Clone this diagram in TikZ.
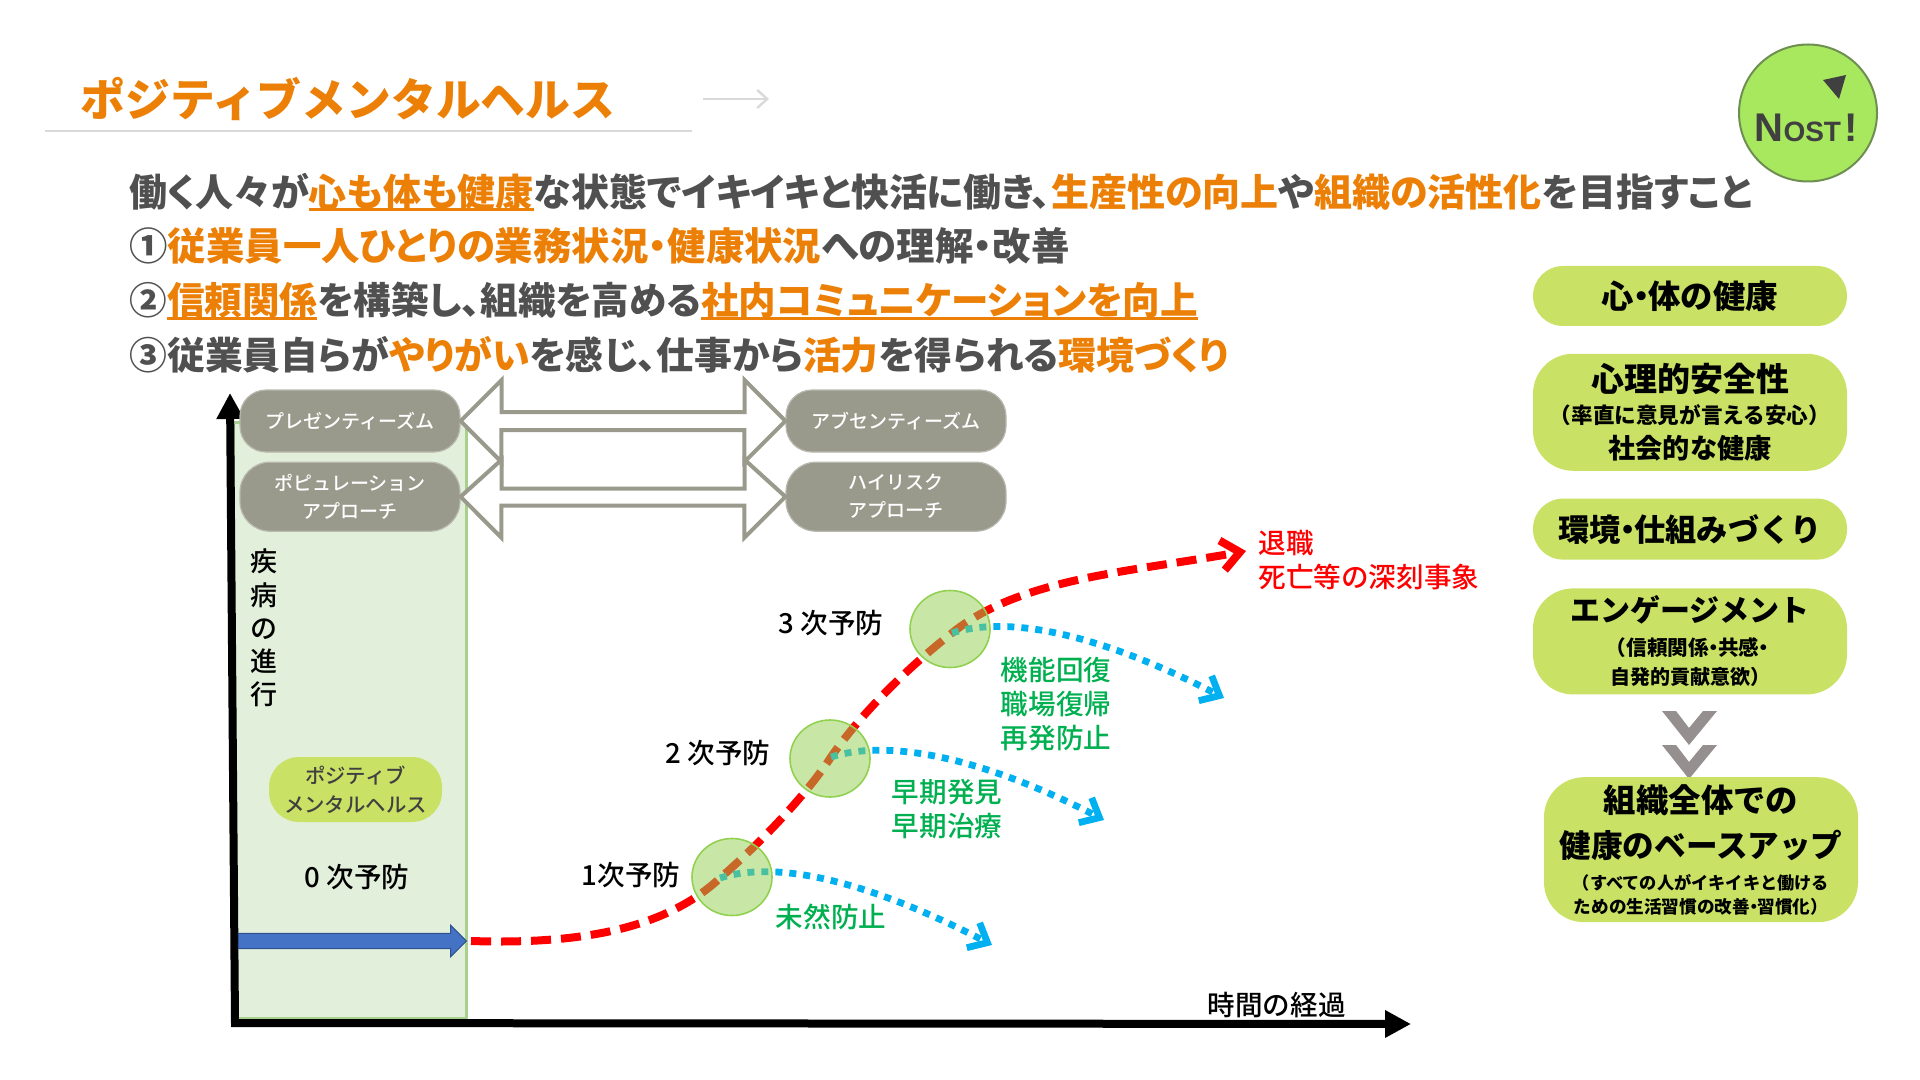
\documentclass[tikz,border=0pt]{standalone}
\usepackage{fontspec}
\setmainfont{Noto Sans CJK JP}
\newfontfamily\latinbold{Liberation Sans}
\newfontfamily\bodyfont{Noto Sans CJK JP}[RawFeature=+palt]
\newfontfamily\labelfont{Noto Sans CJK JP Medium}
\usetikzlibrary{arrows.meta, positioning, shapes.arrows, shapes.geometric}
\definecolor{TitleOrange}{HTML}{EC7F06}
\definecolor{BodyGray}{HTML}{505050}
\definecolor{RuleGray}{HTML}{D9D9D9}
\definecolor{PillLime}{HTML}{C9E265}
\definecolor{PillGray}{HTML}{999A8C}
\definecolor{ChevronGray}{HTML}{968F8F}
\definecolor{BandFill}{HTML}{E2EFDA}
\definecolor{BandLine}{HTML}{A9D18E}
\definecolor{StageFill}{HTML}{92D050}
\definecolor{PathRed}{HTML}{FF0000}
\definecolor{PathBlue}{HTML}{00B0F0}
\definecolor{NoteGreen}{HTML}{00B050}
\definecolor{BadgeGreen}{HTML}{A8E85F}
\definecolor{BadgeEdge}{HTML}{6E8F52}
\definecolor{ArrowBlue}{HTML}{4472C4}
\definecolor{ArrowEdge}{HTML}{2F528F}
\newcommand{\hl}[1]{{\color{TitleOrange}#1}}
\newsavebox{\hlubox}
\newcommand{\hlu}[1]{{\color{TitleOrange}\sbox{\hlubox}{#1}\rlap{\rule[-2.5pt]{\wd\hlubox}{1.6pt}}\usebox{\hlubox}}}
\newcommand{\tdot}{\hspace{-0.28em}・\hspace{-0.28em}}
\newcommand{\fsz}[1]{\fontsize{#1}{#1}\selectfont}

\begin{document}
\begin{tikzpicture}[
    x=0.5pt, y=-0.5pt,
    textline/.style={
        anchor=north west, inner sep=0pt, text=BodyGray,
        font=\bodyfont\fontsize{#1}{20}\selectfont\bfseries,
        text height=15.8pt, text depth=2.2pt
    },
    textline/.default={19},
    limepill/.style={
        rectangle, rounded corners=#1, fill=PillLime, inner sep=0pt,
        minimum width=157pt, align=center, text=black,
        font=\bfseries
    },
    limepill/.default={20pt},
    graypill/.style={
        rectangle, rounded corners=#1, fill=PillGray, draw=PillGray!70!white,
        line width=0.6pt, inner sep=0pt, minimum width=110pt, align=center,
        text=white, font=\labelfont\fontsize{9.5}{14}\selectfont
    },
    graypill/.default={13pt},
    bigarrow/.style={draw=PillGray, fill=white, line width=2pt, line join=miter},
    stage/.style={
        ellipse, draw=StageFill, line width=0.8pt, fill=StageFill,
        fill opacity=0.5, minimum width=40pt, minimum height=38.5pt, inner sep=0pt
    },
    axisline/.style={line width=4pt, -{Triangle[length=13pt, width=13pt]}},
    redpath/.style={
        PathRed, line width=4pt, dash pattern=on 10pt off 5pt,
        -{Straight Barb[length=9pt, width=15pt]}
    },
    bluepath/.style={
        PathBlue, line width=3.4pt, dash pattern=on 3.5pt off 3.5pt,
        -{Straight Barb[length=8pt, width=14pt]}
    },
    chartlabel/.style={font=\labelfont\fontsize{13.8}{17}\selectfont, align=center, inner sep=0pt},
    greennote/.style={chartlabel, text=NoteGreen}
]
\useasboundingbox (0,0) rectangle (1920,1080);

% Title
\node[anchor=west, inner sep=0pt, text=TitleOrange,
      font=\fontspec{Noto Sans CJK JP Black}\fontsize{22.4}{24}\selectfont] (title) at (80,99)
    {ポジティブメンタルヘルス};
\draw[RuleGray, line width=0.7pt] (45,131) -- (692,131);
\draw[RuleGray, line width=1.2pt, -{Straight Barb[length=5pt, width=9pt]}]
    (703,99) -- (769,99);

% Badge
\node[ellipse, fill=BadgeGreen, draw=BadgeEdge, line width=1pt,
      minimum width=69pt, minimum height=68.5pt, inner sep=0pt] (badge) at (1808,113) {};
\node[inner sep=0pt, text=black!75, font=\latinbold\bfseries] (nost) at (1806,128)
    {\fontsize{20}{20}\selectfont N\fontsize{14}{20}\selectfont OST\hspace{1.5pt}\fontsize{20}{20}\selectfont !};
\fill[black!75] (1823,80) -- (1846,75) -- (1839,99) -- cycle;

% --- Body text ---
\node[textline] (l1) at (129,174.5)
    {働く人々が\hlu{心も体も健康}な状態でイキイキと快活に働き、\hl{生産性の向上}や\hl{組織の活性化}を目指すこと};
\node[textline=19.2, below=8.7pt of l1.south west, anchor=north west] (l2)
    {①\hl{従業員一人ひとりの業務状況・健康状況}への理解・改善};
\node[textline=18.8, below=8.7pt of l2.south west, anchor=north west] (l3)
    {②\hlu{信頼関係}を構築し、組織を高める\hlu{社内コミュニケーションを向上}};
\node[textline=18.9, below=8.7pt of l3.south west, anchor=north west] (l4)
    {③従業員自らが\hl{やりがい}を感じ、仕事から\hl{活力}を得られる\hl{環境づくり}};

% --- Chart band and axes ---
\draw[fill=BandFill, draw=BandLine, line width=1.5pt] (233,422) rectangle (466,1018);
\coordinate (origin) at (235,1023);
\coordinate (ytop) at (230,393);
\coordinate (xend) at (1411,1024);
\draw[axisline] (origin) -- (ytop);
\draw[axisline] ([xshift=-2pt]origin) -- (xend);

% --- Approach pills ---
\node[graypill, minimum height=31pt] (pres) at (350,421) {プレゼンティーズム};
\node[graypill=15pt, minimum height=34.5pt, below=4.5pt of pres] (popu)
    {ポピュレーション\\アプローチ};
\node[graypill, minimum height=31pt] (abse) at (896,421) {アブセンティーズム};
\node[graypill=15pt, minimum height=34.5pt, below=4.5pt of abse] (high)
    {ハイリスク\\アプローチ};

% Double arrows
\draw[bigarrow] (pres.east) -- ++(41,-41) -- ++(0,32) -- ++(243,0) -- ++(0,-32)
    -- (abse.west) -- ++(-41,41) -- ++(0,-32) -- ++(-243,0) -- ++(0,32) -- cycle;
\draw[bigarrow] (popu.east) -- ++(41,-37) -- ++(0,29) -- ++(243,0) -- ++(0,-29)
    -- (high.west) -- ++(-41,41) -- ++(0,-32) -- ++(-243,0) -- ++(0,32) -- cycle;

% --- Chart labels ---
\node[chartlabel, font=\labelfont\fontsize{13.5}{16.6}\selectfont] (yaxis) at (264,628)
    {疾\\病\\の\\進\\行};
\node[limepill=15pt, minimum width=86.5pt, minimum height=32.5pt, text=black!75,
      font=\labelfont\fontsize{10.2}{14.7}\selectfont] (pmh) at (355.5,789.5)
    {ポジティブ\\メンタルヘルス};
\node[chartlabel] (zero) at (357,877) {0 次予防};
\node[chartlabel] (first) at (631,875) {1次予防};
\node[chartlabel] (second) at (718,753) {2 次予防};
\node[chartlabel] (third) at (831,623) {3 次予防};
\node[chartlabel, anchor=east] (xaxis) at (1346,1005) {時間の経過};

% --- Courses ---
\node[single arrow, draw=ArrowEdge, fill=ArrowBlue, line width=0.5pt, inner xsep=0pt,
      inner ysep=3.6pt, minimum height=114pt, single arrow head extend=4pt]
    (zeroarrow) at (348.5,941) {};

\coordinate (b1) at (720,878);
\coordinate (b2) at (831,757);
\coordinate (b3) at (952,633);
\coordinate (e1) at (992,945);
\coordinate (e2) at (1104,820);
\coordinate (e3) at (1224,698);
\coordinate (retire) at (1246,551);

\draw[redpath] ([xshift=2pt]zeroarrow.tip) .. controls (590,945) and (670,925) .. (b1)
    .. controls (755,848) and (805,797) .. (b2)
    .. controls (860,715) and (905,670) .. (b3)
    .. controls (1020,578) and (1130,572) .. (retire);
\foreach \k in {1,2,3} {
    \draw[bluepath] (b\k) .. controls +(66,-21) and +(-104,-54) .. (e\k);
}

\node[stage] (s1) at (732,877) {};
\node[stage] (s2) at (830,758.5) {};
\node[stage] (s3) at (950,629) {};

\node[greennote] (prevent) at (831,917) {未然防止};
\node[greennote, font=\labelfont\fontsize{13.8}{16.6}\selectfont] (early) at (947,809) {早期発見\\早期治療};
\node[greennote] (recover) at (1056,704) {機能回復\\職場復帰\\再発防止};
\node[chartlabel, text=PathRed, align=left, anchor=west] (worst) at (1258,560)
    {退職\\死亡等の深刻事象};

% --- Right column ---
\node[limepill=15pt, minimum height=30pt, font=\fontsize{16.2}{18}\selectfont\bfseries]
    (p1) at (1690,296) {心\tdot 体の健康};
\node[limepill, minimum height=58.5pt, below=13.5pt of p1] (p2)
    {\fsz{16.5}心理的安全性\\[4pt]\fsz{10.8}（率直に意見が言える安心）\\[4pt]\fsz{13.6}社会的な健康};
\node[limepill=15pt, minimum height=30.5pt, below=13.5pt of p2,
      font=\fontsize{15.6}{18}\selectfont\bfseries] (p3) {環境\tdot 仕組みづくり};
\node[limepill, minimum height=53pt, below=14pt of p3] (p4)
    {\fsz{15}エンゲージメント\\[5pt]\fsz{10.3}（信頼関係\tdot 共感\tdot\\[2.5pt]自発的貢献意欲）};
\foreach \y in {711,745} {
    \fill[ChevronGray] (1662,\y) -- ++(27,34) -- ++(28,-34) -- ++(-14,0) -- ++(-14,17)
        -- ++(-13,-17) -- cycle;
}
\node[limepill, minimum height=72.5pt, below=41pt of p4, xshift=5.5pt] (p5)
    {\fsz{16.2}組織全体での\\[6pt]\fsz{15.8}健康のベースアップ\\[4pt]\fsz{8.6}（すべての人がイキイキと働ける\\[0pt]\fsz{8.8}ための生活習慣の改善\tdot 習慣化）};

\end{tikzpicture}
\end{document}
